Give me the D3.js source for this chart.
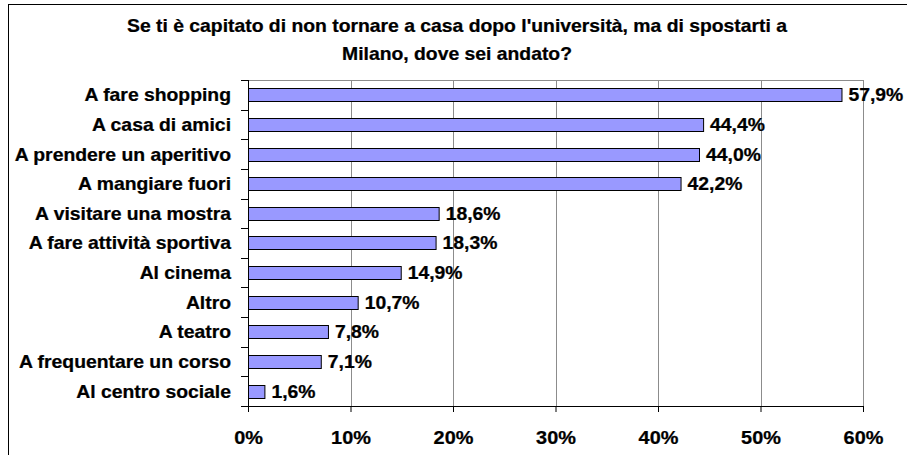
<!DOCTYPE html>
<html>
<head>
<meta charset="utf-8">
<script src="https://cdn.jsdelivr.net/npm/d3@7"></script>
<style>
  body { margin: 0; background: white; }
  text { font-family: "Liberation Sans", Arial, sans-serif; font-weight: bold; fill: black; font-size: 18px;
         stroke: black; stroke-width: 0.25px; }
</style>
</head>
<body>
<div id="chart"></div>
<script>
// data
let categories = ["A fare shopping", "A casa di amici", "A prendere un aperitivo", "A mangiare fuori",
  "A visitare una mostra", "A fare attività sportiva", "Al cinema", "Altro", "A teatro",
  "A frequentare un corso", "Al centro sociale"];
let values = [57.9, 44.4, 44.0, 42.2, 18.6, 18.3, 14.9, 10.7, 7.8, 7.1, 1.6];
let ticks = [0, 10, 20, 30, 40, 50, 60];
let titleLines = ["Se ti è capitato di non tornare a casa dopo l'università, ma di spostarti a",
  "Milano, dove sei andato?"];

let W = 907, H = 455;
let margin = { top: 80, left: 248, right: 44, bottom: 49 },
  width = W - margin.left - margin.right,
  height = H - margin.top - margin.bottom;
let stretch = 1.075; // the original text is a bit wider than Liberation Sans

let svg = d3.select('#chart').append('svg')
  .attr('width', W).attr('height', H);

// puts a text at (px,py), stretched horizontally around its anchor
function place(sel, px, py) {
  sel.attr('transform', (d, i) => 'translate(' + px(d, i) + ',' + py(d, i) + ') scale(' + stretch + ',1)');
}

// outer frame
svg.append('rect')
  .attr('x', 8.5).attr('y', 4.5).attr('width', 920).attr('height', 470)
  .attr('fill', 'white').attr('stroke', 'black').attr('stroke-width', 1);

// title
svg.selectAll('.title').data(titleLines).enter().append('text')
  .attr('text-anchor', 'middle')
  .call(place, () => 457, (d, i) => 32 + i * 27.5)
  .text(d => d);

let g = svg.append('g').attr('transform', 'translate(' + margin.left + ',' + margin.top + ')');

let x = d3.scaleLinear().domain([0, 60]).range([0, width]);
let y = d3.scaleBand().domain(categories).range([0, height]).paddingInner(0.56).paddingOuter(0.28);

// gridlines + top line of the plot area
g.selectAll('.grid').data(ticks.slice(1)).enter().append('line')
  .attr('x1', d => Math.round(x(d)) + 0.5).attr('x2', d => Math.round(x(d)) + 0.5)
  .attr('y1', 0).attr('y2', height)
  .attr('stroke', '#8c8c8c');
g.append('line')
  .attr('x1', 0).attr('x2', width).attr('y1', 0.5).attr('y2', 0.5)
  .attr('stroke', '#8c8c8c');

// bars
g.selectAll('.bar').data(values).enter().append('rect')
  .attr('class', 'bar')
  .attr('x', 0.5)
  .attr('y', (d, i) => Math.round(y(categories[i])) + 0.5)
  .attr('width', d => x(d))
  .attr('height', Math.round(y.bandwidth()))
  .attr('fill', '#9999ff').attr('stroke', 'black').attr('stroke-width', 1);

// value labels
g.selectAll('.val').data(values).enter().append('text')
  .attr('dy', '0.36em')
  .call(place, d => x(d) + 7, (d, i) => y(categories[i]) + y.bandwidth() / 2)
  .text(d => d.toFixed(1).replace('.', ',') + '%');

// category axis: line, ticks at band edges, labels
let edges = d3.range(categories.length + 1).map(i => i * height / categories.length);
g.append('line').attr('x1', 0.5).attr('x2', 0.5).attr('y1', 0).attr('y2', height).attr('stroke', 'black');
g.selectAll('.ytick').data(edges).enter().append('line')
  .attr('x1', -7).attr('x2', 0).attr('y1', d => Math.round(d) + 0.5).attr('y2', d => Math.round(d) + 0.5)
  .attr('stroke', 'black');
g.selectAll('.cat').data(categories).enter().append('text')
  .attr('dy', '0.36em')
  .attr('text-anchor', 'end')
  .call(place, () => -17, d => y(d) + y.bandwidth() / 2)
  .text(d => d);

// value axis
let xAxis = g.append('g')
  .attr('transform', 'translate(0,' + height + ')')
  .call(d3.axisBottom(x).tickValues(ticks).tickSize(6).tickPadding(19)
    .tickFormat(d => d + '%'));
xAxis.select('.domain').attr('stroke', 'black').attr('d', 'M0,0.5H' + width);
xAxis.selectAll('.tick line').attr('stroke', 'black');
xAxis.selectAll('text')
  .style('font-size', '18.5px').style('font-family', '"Liberation Sans", Arial, sans-serif')
  .attr('fill', 'black').attr('stroke', 'black').attr('stroke-width', 0.25)
  .attr('transform', 'scale(' + stretch + ',1)');
</script>
</body>
</html>
